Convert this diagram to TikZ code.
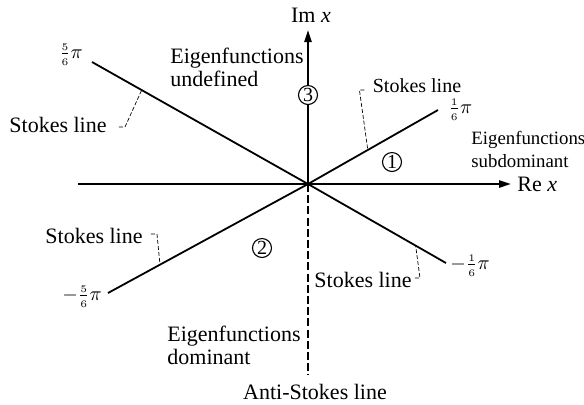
\documentclass[tikz,border=0pt]{standalone}
\usepackage{fontspec}
\setmainfont{Liberation Serif}
\usetikzlibrary{positioning, arrows.meta}

\newcommand{\sixth}[1]{\frac{\scriptscriptstyle #1}{\scriptscriptstyle 6}\pi}

\begin{document}
\begin{tikzpicture}[
  x=0.5pt, y=-0.5pt,
  lbl/.style={font=\fontsize{11}{11.5}\selectfont, inner sep=1pt, align=left},
  small/.style={lbl, font=\fontsize{10}{11.5}\selectfont},
  angl/.style={font=\fontsize{10}{10}\selectfont, inner sep=1pt},
  region/.style={draw, circle, fill=white, line width=0.55pt, inner sep=0pt,
                 minimum size=9.5pt, font=\fontsize{10}{10}\selectfont},
  axis/.style={line width=1pt, -{Triangle[length=6pt, width=3.6pt]}},
  stokes/.style={line width=0.9pt},
  antistokes/.style={line width=1pt, dash pattern=on 4pt off 1.6pt},
  leader/.style={line width=0.35pt, dash pattern=on 2pt off 1pt}
]
\useasboundingbox (0,0) rectangle (584,404);
\coordinate (O) at (308,184);
\coordinate (reL) at (78,184);
\coordinate (reR) at (511,184);
\coordinate (imT) at (308,30);
\coordinate (imB) at (308,375);
\coordinate (sUR) at (438,110);
\coordinate (sUL) at (92,62);
\coordinate (sLL) at (108,293);
\coordinate (sLR) at (446,263);

% axes
\draw[axis] (reL) -- (reR);
\draw[axis] (O) -- (imT);
\draw[antistokes] (O) -- (imB);

% Stokes lines
\draw[stokes] (O) -- (sUR) coordinate[pos=0.46] (tUR);
\draw[stokes] (O) -- (sUL) coordinate[pos=0.77] (tUL);
\draw[stokes] (O) -- (sLL) coordinate[pos=0.74] (tLL);
\draw[stokes] (O) -- (sLR) coordinate[pos=0.78] (tLR);

% axis labels
\node[lbl] (imlbl) at (311,15) {Im \textit{x}};
\node[lbl, anchor=west] (relbl) at (515,184) {Re \textit{x}};
\node[lbl] (anti) at (315,392) {Anti-Stokes line};

% angles
\node[angl, anchor=west] (aUR) at (446,110) {$\sixth{1}$};
\node[angl] (aUL) at (71,55) {$\sixth{5}$};
\node[angl] (aLL) at (82,297) {$-\sixth{5}$};
\node[angl] (aLR) at (470,266) {$-\sixth{1}$};

% regions
\node[region] (r1) at (392,162) {1};
\node[region] (r2) at (262,248) {2};
\node[region] (r3) at (308,95) {3};

% descriptions
\node[lbl, anchor=west] (undef) at (168,67) {Eigenfunctions\\undefined};
\node[small, font=\fontsize{9.4}{11.5}\selectfont, anchor=west] (subdom) at (469,149) {Eigenfunctions\\subdominant};
\node[lbl, anchor=west] (dom) at (165,345) {Eigenfunctions\\dominant};

% Stokes line labels
\node[small] (slUR) at (417,86) {Stokes line};
\node[lbl] (slUL) at (58,125) {Stokes line};
\node[lbl] (slLL) at (94,236) {Stokes line};
\node[lbl] (slLR) at (363,280) {Stokes line};

\draw[leader] ([xshift=-3pt, yshift=-2pt]slUR.west) -- ++(-5,0) -- (tUR);
\draw[leader] ([xshift=5pt, yshift=-1pt]slUL.east) -- ++(6,0) -- (tUL);
\draw[leader] ([xshift=3pt, yshift=1pt]slLL.east) -- ++(6,0) -- (tLL);
\draw[leader] ([xshift=0.5pt, yshift=1pt]slLR.east) -- ++(5,0) -- (tLR);
\end{tikzpicture}
\end{document}
